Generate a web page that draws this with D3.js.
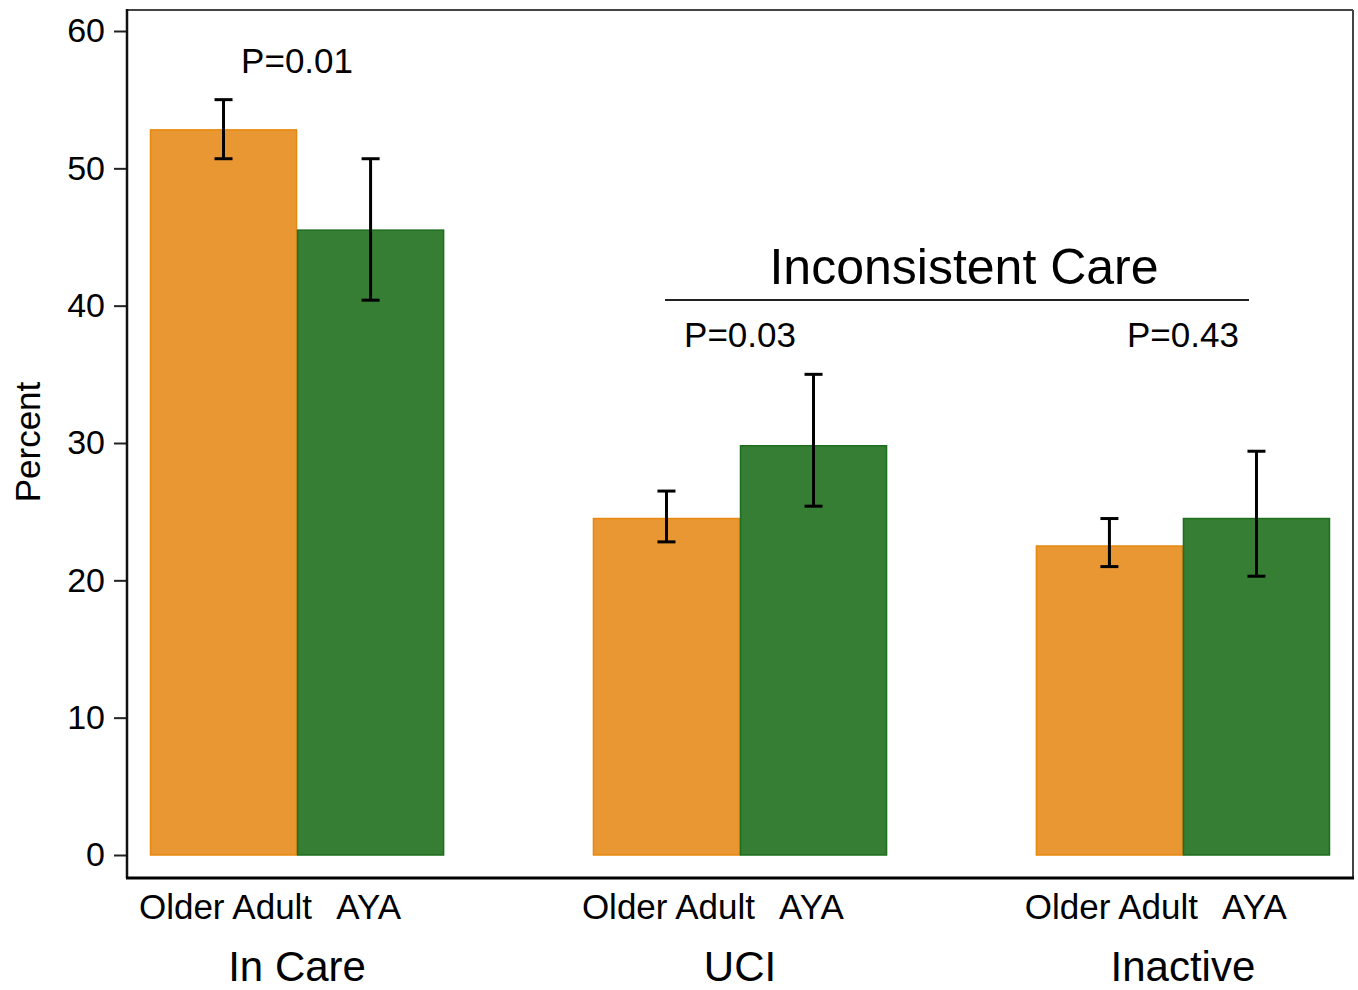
<!DOCTYPE html>
<html><head><meta charset="utf-8">
<script src="https://cdn.jsdelivr.net/npm/d3@7"></script>
<style>body{margin:0;background:#fff}svg{display:block}text{font-family:"Liberation Sans",Arial,sans-serif;fill:#000}</style>
</head><body><svg id="c" width="1358" height="990"></svg>
<script>
const groups = ["In Care", "UCI", "Inactive"];
const series = ["Older Adult", "AYA"];
const values = { "Older Adult": [52.8, 24.5, 22.5], "AYA": [45.5, 29.8, 24.5] };
const errLow = { "Older Adult": [50.7, 22.8, 21.0], "AYA": [40.4, 25.4, 20.3] };
const errHigh = { "Older Adult": [55.0, 26.5, 24.5], "AYA": [50.7, 35.0, 29.4] };
const pValues = ["P=0.01", "P=0.03", "P=0.43"];
const yTicks = [0, 10, 20, 30, 40, 50, 60];
const colors = { "Older Adult": "#E99733", "AYA": "#357E33" };
const strokes = { "Older Adult": "#E8890F", "AYA": "#1E6E1E" };

const svg = d3.select("#c");
const frame = { left: 127, right: 1353, top: 10, bottom: 878 };
const y = d3.scaleLinear().domain([0, 60]).range([855, 31]);
const x0 = d3.scaleBand().domain(groups).range([150, 1330]).paddingInner(0.336).paddingOuter(0);
const x1 = d3.scaleBand().domain(series).range([0, x0.bandwidth()]).padding(0);

// frame
svg.append("line").attr("x1", frame.left).attr("x2", frame.right).attr("y1", frame.top).attr("y2", frame.top).attr("stroke", "#444").attr("stroke-width", 2);
svg.append("line").attr("x1", frame.right).attr("x2", frame.right).attr("y1", frame.top).attr("y2", frame.bottom).attr("stroke", "#444").attr("stroke-width", 2);

// bars
const data = [];
groups.forEach((g, i) => series.forEach(s => data.push({ g, s, v: values[s][i], lo: errLow[s][i], hi: errHigh[s][i] })));
svg.append("g").selectAll("rect").data(data).join("rect")
  .attr("x", d => x0(d.g) + x1(d.s) + 0.5)
  .attr("width", x1.bandwidth() - 1)
  .attr("y", d => y(d.v))
  .attr("height", d => y(0) - y(d.v))
  .attr("fill", d => colors[d.s])
  .attr("stroke", d => strokes[d.s]).attr("stroke-width", 1.5);

// error bars
const eg = svg.append("g").attr("stroke", "#000").attr("stroke-width", 3);
data.forEach(d => {
  const cx = x0(d.g) + x1(d.s) + x1.bandwidth() / 2;
  eg.append("line").attr("x1", cx).attr("x2", cx).attr("y1", y(d.hi)).attr("y2", y(d.lo));
  eg.append("line").attr("x1", cx - 9).attr("x2", cx + 9).attr("y1", y(d.hi)).attr("y2", y(d.hi));
  eg.append("line").attr("x1", cx - 9).attr("x2", cx + 9).attr("y1", y(d.lo)).attr("y2", y(d.lo));
});

// y axis
const yAxis = d3.axisLeft(y).tickValues(yTicks).tickSize(13).tickPadding(9);
const ya = svg.append("g").attr("transform", `translate(${frame.left},0)`).call(yAxis);
ya.select(".domain").remove();
ya.selectAll(".tick line").attr("stroke", "#222").attr("stroke-width", 2);
ya.selectAll(".tick text").attr("font-size", 34).attr("font-family", "Liberation Sans, Arial, sans-serif").attr("fill", "#000");
svg.append("line").attr("x1", frame.left).attr("x2", frame.left).attr("y1", frame.top - 1).attr("y2", frame.bottom).attr("stroke", "#111").attr("stroke-width", 2.5);
svg.append("line").attr("x1", frame.left - 1).attr("x2", frame.right + 1).attr("y1", frame.bottom).attr("y2", frame.bottom).attr("stroke", "#000").attr("stroke-width", 3);

// y label
svg.append("text").attr("transform", "translate(40,442) rotate(-90)").attr("text-anchor", "middle").attr("font-size", 35).text("Percent");

// x labels
groups.forEach((g, i) => {
  series.forEach((s, j) => {
    svg.append("text").attr("x", x0(g) + x1(s) + x1.bandwidth() / 2 + (j === 0 ? 2 : -2)).attr("y", 919)
      .attr("text-anchor", "middle").attr("font-size", 35).text(s);
  });
  svg.append("text").attr("x", x0(g) + x0.bandwidth() / 2).attr("y", 981)
    .attr("text-anchor", "middle").attr("font-size", 42).text(g);
  svg.append("text").attr("x", x0(g) + x0.bandwidth() / 2).attr("y", i === 0 ? 73 : 347)
    .attr("text-anchor", "middle").attr("font-size", 35).text(pValues[i]);
});

// Inconsistent Care bracket
svg.append("line").attr("x1", 665).attr("x2", 1249).attr("y1", 300).attr("y2", 300).attr("stroke", "#222").attr("stroke-width", 2);
svg.append("text").attr("x", 964).attr("y", 284).attr("text-anchor", "middle").attr("font-size", 50).text("Inconsistent Care");
</script></body></html>
